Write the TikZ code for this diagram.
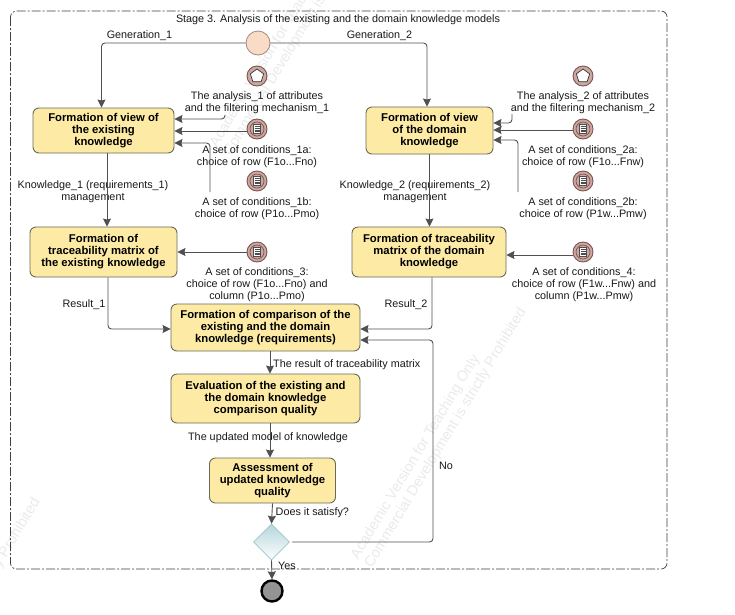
\documentclass[tikz,border=0pt]{standalone}
\usepackage{fontspec}
\setmainfont{Liberation Sans}
\usetikzlibrary{arrows.meta,shapes.geometric,calc}
\definecolor{boxfill}{HTML}{FDEBA5}
\definecolor{boxedge}{HTML}{6A6A58}
\definecolor{linecol}{HTML}{505050}
\definecolor{iconfill}{HTML}{CDA8A2}
\definecolor{iconedge}{HTML}{7A5550}
\definecolor{startfill}{HTML}{FADCC6}
\definecolor{wm}{HTML}{EBEBEB}
\definecolor{gatetop}{HTML}{B4D6DC}
\definecolor{gateedge}{HTML}{9CC4CC}
\tikzset{
  x=1pt,y=-1pt,
  task/.style={draw=boxedge,line width=0.9pt,fill=boxfill,rounded corners=6pt,inner sep=0pt,align=center,
    font=\fontsize{11.3}{12}\selectfont\bfseries,execute at begin node={\rule{0pt}{10.5pt}}},
  lbl/.style={inner sep=0pt,align=center,font=\fontsize{10.8}{12}\selectfont,text=black!90,yshift=-1.2pt},
  lbll/.style={lbl,anchor=west},
  flow/.style={draw=linecol,line width=0.9pt,rounded corners=3.5pt,-{Stealth[length=8pt,width=8pt,inset=1pt]}},
  evt/.style={circle,draw=iconedge,line width=0.9pt,fill=iconfill,inner sep=0pt,minimum size=20pt},
  wmk/.style={inner sep=0pt,align=left,rotate=59,text=wm,font=\fontsize{14.7}{16}\selectfont},
}
\newcommand{\rulesicon}[2]{%
  \node[evt] (#1) at (#2) {};
  \draw[iconedge,line width=0.7pt] (#1) circle (7pt);
  \draw[black!70,line width=0.7pt,fill=white] ($(#1)+(-3.5,-4.5)$) rectangle ($(#1)+(3.5,4.5)$);
  \foreach \yy in {-2.6,-0.9,0.9,2.6}
    \draw[black!70,line width=0.7pt] ($(#1)+(-2.5,\yy)$) -- ($(#1)+(2.5,\yy)$);
}
\newcommand{\penticon}[2]{%
  \node[evt] (#1) at (#2) {};
  \node[regular polygon,regular polygon sides=5,draw=black!80,line width=0.7pt,fill=white,inner sep=0pt,minimum size=14pt] at (#2) {};
}
\begin{document}
\begin{tikzpicture}
\useasboundingbox (0,0) rectangle (735,614);
\fill[white] (0,0) rectangle (735,614);
% watermarks
\begin{scope}
\clip (0,0) rectangle (735,614);
\node[wmk] (wma) at (298,22) {Academic Version for Teaching Only\\Commercial Development is strictly Prohibited};
\node[wmk] (wmb) at (439,434) {Academic Version for Teaching Only\\Commercial Development is strictly Prohibited};
\node[wmk] (wmc) at (-47,624) {Academic Version for Teaching Only\\Commercial Development is strictly Prohibited};
\end{scope}
% frame
\draw[black!75,line width=0.7pt,rounded corners=6pt,dash pattern=on 9pt off 2pt on 2pt off 2pt] (10.5,11) rectangle (667,569);
\node (frametitle) [lbl] at (338,19) {Stage 3. Analysis of the existing and the domain knowledge models};
% tasks
\node[task,minimum width=141pt,minimum height=45pt] (view1) at (103.5,130.5) {Formation of view of\\the existing\\knowledge};
\node[task,minimum width=127pt,minimum height=47pt] (view2) at (429.5,130.5) {Formation of view\\of the domain\\knowledge};
\node[task,minimum width=147pt,minimum height=50pt] (trace1) at (103.5,252) {Formation of\\traceability matrix of\\the existing knowledge};
\node[task,minimum width=154pt,minimum height=50pt] (trace2) at (429,252) {Formation of traceability\\matrix of the domain\\knowledge};
\node[task,minimum width=189pt,minimum height=47pt] (compare) at (265.5,327.5) {Formation of comparison of the\\existing and the domain\\knowledge (requirements)};
\node[task,minimum width=189pt,minimum height=49pt] (eval) at (265.5,398.5) {Evaluation of the existing and\\the domain knowledge\\comparison quality};
\node[task,minimum width=126pt,minimum height=45pt] (assess) at (272.5,480.5) {Assessment of\\updated knowledge\\quality};
% start, end, gateway
\node[circle,draw=iconedge!70,line width=0.8pt,fill=startfill,minimum size=24pt,inner sep=0pt] (start) at (258,43) {};
\node[circle,draw=black,line width=2.4pt,fill=black!42,minimum size=21pt,inner sep=0pt] (finish) at (272,591) {};
\node[diamond,draw=gateedge,line width=0.6pt,inner sep=0pt,minimum width=36pt,minimum height=36pt,
  top color=gatetop,bottom color=white] (gate) at (271.5,542) {};
% icons
\penticon{p1}{257,76}
\rulesicon{r1a}{257,129}
\rulesicon{r1b}{257,181}
\rulesicon{r3}{257,252}
\penticon{p2}{583,76}
\rulesicon{r2a}{583,129}
\rulesicon{r2b}{583,181}
\rulesicon{r4}{583,252}
% labels
\node[lbl] (g1) at (139.5,34) {Generation\_1};
\node[lbl] (g2) at (379.5,34) {Generation\_2};
\node[lbl] (lp1) at (257,102) {The analysis\_1 of attributes\\and the filtering mechanism\_1};
\node[lbl] (l1a) at (257,155) {A set of conditions\_1a:\\choice of row (F1o...Fno)};
\node[lbl] (l1b) at (257,207) {A set of conditions\_1b:\\choice of row (P1o...Pmo)};
\node[lbl] (l3) at (257,283) {A set of conditions\_3:\\choice of row (F1o...Fno) and\\column (P1o...Pmo)};
\node[lbl] (lp2) at (583,102) {The analysis\_2 of attributes\\and the filtering mechanism\_2};
\node[lbl] (l2a) at (583,155) {A set of conditions\_2a:\\choice of row (F1o...Fnw)};
\node[lbl] (l2b) at (583,207) {A set of conditions\_2b:\\choice of row (P1w...Pmw)};
\node[lbl] (l4) at (584,283) {A set of conditions\_4:\\choice of row (F1w...Fnw) and\\column (P1w...Pmw)};
\node[lbl] (k1) at (93,190) {Knowledge\_1 (requirements\_1)\\management};
\node[lbl] (k2) at (415,190) {Knowledge\_2 (requirements\_2)\\management};
\node[lbl] (res1) at (84,303) {Result\_1};
\node[lbl] (res2) at (406,303) {Result\_2};
\node[lbll] (lr) at (273,363) {The result of traceability matrix};
\node[lbl] (lu) at (268,436) {The updated model of knowledge};
\node[lbll] (ls) at (275.5,511) {Does it satisfy?};
\node[lbll] (ly) at (278,565) {Yes};
\node[lbl] (ln) at (446,465) {No};
% free ends
\coordinate (a1) at (225,115);
\coordinate (a2) at (210,192);
\coordinate (b1) at (512,114);
\coordinate (b2) at (518,192);
\coordinate (gateout) at (292,542);
% connectors
\draw[flow] (start.west) -| ([xshift=-2pt]view1.north);
\draw[flow] (start.east) -| ([xshift=-2.5pt]view2.north);
\draw[flow] (a1) |- ([yshift=11.5pt]view1.east);
\draw[flow] ([yshift=-2pt]r1a.west) -- ([yshift=-2pt]r1a.west -| view1.east);
\draw[flow] (a2) |- ([yshift=-12.5pt]view1.east);
\draw[flow] (b1) |- ([yshift=7.5pt]view2.east);
\draw[flow] ([yshift=-1pt]r2a.west) -- ([yshift=-1pt]r2a.west -| view2.east);
\draw[flow] (b2) |- ([yshift=-9.5pt]view2.east);
\draw[flow] ([xshift=3.5pt]view1.south) -- ([xshift=3.5pt]view1.south |- trace1.north);
\draw[flow] (view2.south) -- (view2.south |- trace2.north);
\draw[flow] (r3.west) -- (r3.west -| trace1.east);
\draw[flow] ([yshift=-3pt]r4.west) -- ([yshift=-3pt]r4.west -| trace2.east);
\draw[flow] ([xshift=4.5pt]trace1.south) |- ([yshift=-1.5pt]compare.west);
\draw[flow] ([xshift=3pt]trace2.south) |- ([yshift=-1.5pt]compare.east);
\draw[flow] ([xshift=4.5pt]compare.south) -- ([xshift=4.5pt]compare.south |- eval.north);
\draw[flow] ([xshift=4.5pt]eval.south) -- ([xshift=4.5pt]eval.south |- assess.north);
\draw[flow] (assess.south) -- (gate.north);
\draw[flow] (gate.south) -- (finish.north);
\draw[flow] (gateout) -- (433,542) |- ([yshift=-12.5pt]compare.east);
\end{tikzpicture}
\end{document}
